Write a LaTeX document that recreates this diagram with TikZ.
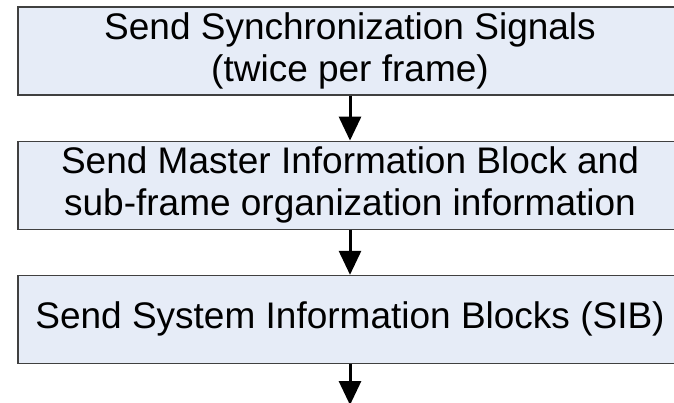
\documentclass[tikz,border=0pt]{standalone}
\usepackage{fontspec}
\setmainfont{Liberation Sans}
\usepackage{tikz}
\usetikzlibrary{arrows.meta,positioning}
\definecolor{boxblue}{HTML}{E6ECF7}

\begin{document}
\begin{tikzpicture}[
  b/.style={draw=black!75, line width=1.2pt, fill=boxblue, align=center, font=\fontsize{37}{42}\selectfont, minimum width=664pt, minimum height=88pt, inner sep=0pt},
  arr/.style={-{Triangle[length=24pt,width=22pt]}, line width=3pt},
  node distance=45pt]
\clip (0,0) rectangle (674pt,402pt);
% the three steps
\node[b] (sync) at (350pt,351pt) {Send Synchronization Signals\\(twice per frame)};
\node[b, below=of sync] (mib) {Send Master Information Block and\\sub-frame organization information};
\node[b, below=of mib] (sib) {Send System Information Blocks (SIB)};
\coordinate[below=41pt of sib] (nxt);
\draw[arr] (sync) -- (mib); \draw[arr] (mib) -- (sib); \draw[arr] (sib) -- (nxt);
\end{tikzpicture}
\end{document}
